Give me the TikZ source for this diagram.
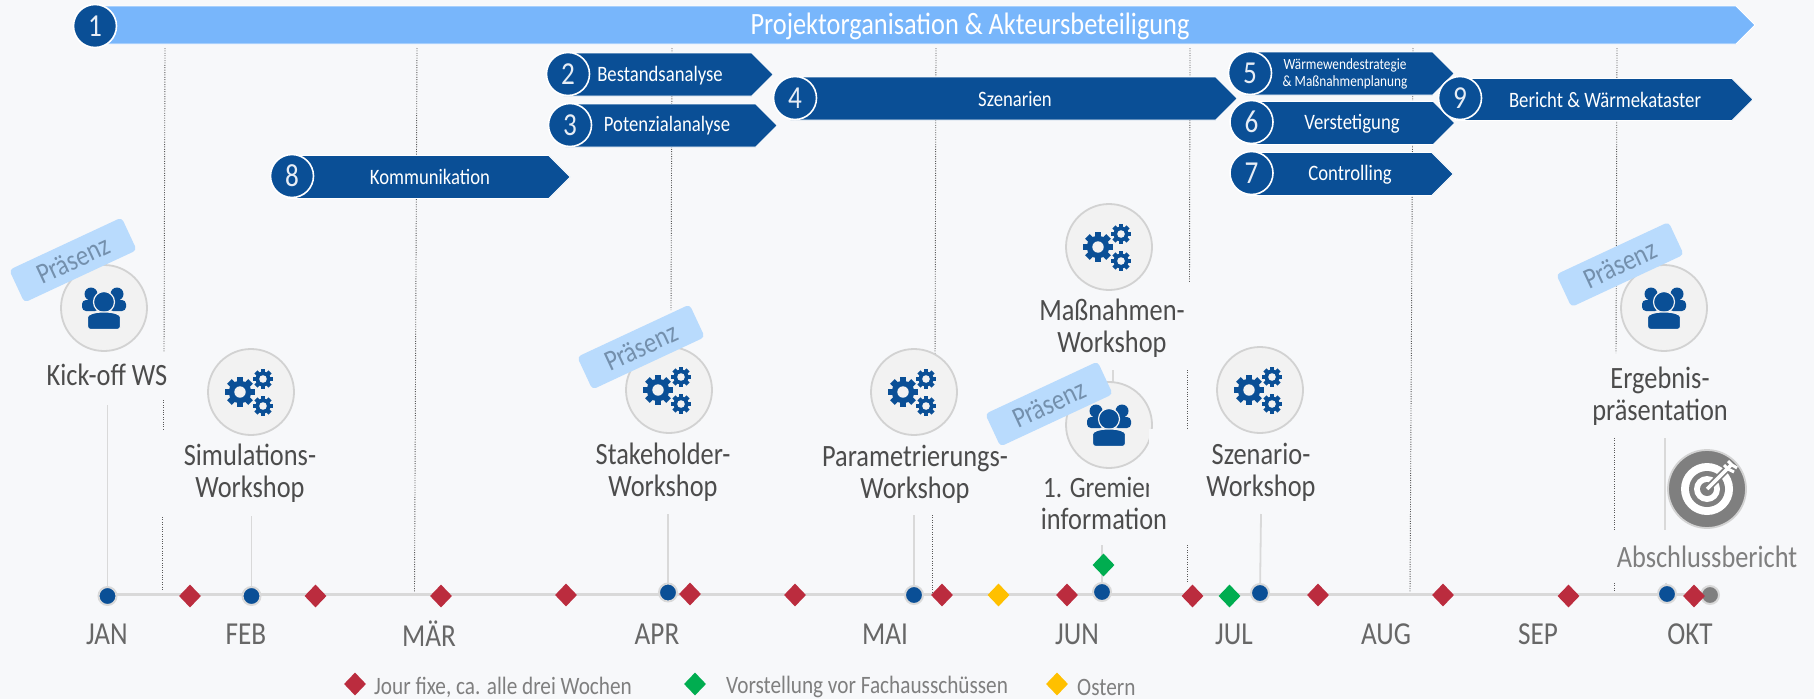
\documentclass[tikz,border=0pt]{standalone}
\usepackage{fontspec}
\setmainfont[FakeStretch=0.85]{Carlito}
\usepackage{tikz}
\usetikzlibrary{shapes.geometric,shapes.symbols}

\definecolor{cBack}{HTML}{F7F8FA}
\definecolor{cDark}{HTML}{0A4F96}
\definecolor{cLight}{HTML}{78B6FB}
\definecolor{cTag}{HTML}{B9DBFD}
\definecolor{cTagText}{HTML}{7490AD}
\definecolor{cRed}{HTML}{BB2C3E}
\definecolor{cGreen}{HTML}{00AD50}
\definecolor{cYellow}{HTML}{FFC000}
\definecolor{cDisc}{HTML}{F2F2F2}
\definecolor{cRing}{HTML}{D2D2D2}
\definecolor{cLine}{HTML}{D9D9D9}
\definecolor{cGrey}{HTML}{7F7F7F}
\definecolor{cText}{HTML}{4C4C4C}

\tikzset{
	gearshape/.pic = {
		\foreach \a in {0,45,...,315}
			\fill [cDark, rotate = \a] (-0.22,0.6) rectangle (0.22,1);
		\fill [cDark] (0,0) circle (0.75);
		\fill [cDisc] (0,0) circle (0.38);
	},
	gearsicon/.pic = {
		\pic [scale = 15] at (-11,0) {gearshape};
		\pic [scale = 10] at (12,-13) {gearshape};
		\pic [scale = 10] at (12,14) {gearshape};
	},
	peopleicon/.pic = {
		\fill [cDark] (-13,-14) circle (6.5);
		\fill [cDark] (13,-14) circle (6.5);
		\fill [cDark, rounded corners = 4] (-22,3) rectangle (-5,-8);
		\fill [cDark, rounded corners = 4] (5,3) rectangle (22,-8);
		\fill [cDark, draw = cDisc, line width = 1.2] (0,-6) circle (10.5);
		\fill [cDark, draw = cDisc, line width = 1.2, rounded corners = 3] (-16.5,21.5) -- (-16.5,12) .. controls (-16.5,6) and (-8,4) .. (0,4) .. controls (8,4) and (16.5,6) .. (16.5,12) -- (16.5,21.5) -- cycle;
	},
	targeticon/.pic = {
		\fill [white] (0,0) circle (26);
		\fill [cGrey] (0,0) circle (18);
		\fill [white] (0,0) circle (13);
		\fill [cGrey] (0,0) circle (7);
		\draw [cGrey, line width = 7] (0,0) -- (21,-21);
		\draw [white, line width = 3.5] (0,0) -- (24,-24);
		\draw [white, line width = 3] (17,-24) -- (21,-20) -- (27,-17);
		\draw [white, line width = 3] (21,-28) -- (25,-24) -- (30,-21);
	},
}

\begin{document}
\begin{tikzpicture}
[
	x	= 1pt,	% one unit is one pixel of the sketch
	y	= -1pt,
	barshape/.style	= {shape = signal, signal to = east, signal pointer angle = 90, inner sep = 0, outer sep = 0, draw = white, line width = 0.8, fill = cDark},
	barnumber/.style	= {shape = circle, minimum size = 43, inner sep = 0, draw = white, line width = 1.6, fill = cDark, text = white!90!cDark, font = \fontsize{32}{34}\selectfont},
	bartext/.style	= {text = white, align = center, inner sep = 0, font = \fontsize{22}{24}\selectfont},
	disc/.style	= {shape = circle, minimum size = 86, inner sep = 0, draw = cRing, line width = 1.8, fill = cDisc},
	workshop/.style	= {text = cText, align = center, inner sep = 1, fill = cBack, font = \fontsize{31}{32}\selectfont},
	tagbox/.style	= {shape = rectangle, rotate = 25, minimum width = 124, minimum height = 36, rounded corners = 4, inner sep = 0, fill = cTag, text = cTagText, font = \fontsize{29}{30}\selectfont},
	month/.style	= {text = cText!85, inner sep = 0, font = \fontsize{32}{33}\selectfont},
	legendtext/.style	= {text = cGrey, anchor = west, inner sep = 0, font = \fontsize{25}{26}\selectfont},
	markdot/.style	= {shape = circle, minimum size = 18, inner sep = 0, draw = cLine, line width = 2, fill = cDark},
	markend/.style	= {markdot, fill = cGrey},
	jourfixe/.style	= {shape = diamond, minimum width = 22, minimum height = 23, inner sep = 0, fill = cRed},
	gremium/.style	= {jourfixe, fill = cGreen},
	ostern/.style	= {jourfixe, fill = cYellow},
	monthline/.style	= {cGrey!70!black, dash pattern = on 1pt off 1.4pt, line width = 0.9},
	stemline/.style	= {cLine, line width = 1.8},
]

{
	\useasboundingbox (0,0) rectangle (1814,699);
	\fill [cBack] (0,0) rectangle (1814,699);

	% month separators
	\foreach \xa/\ya/\xb/\yb in {165/48/164/352, 163.5/400/163.5/430, 162/517/162/590,
		417/48/414.5/592, 672/48/671/310, 668/514/668/592,
		936/48/935/360, 932.6/515/932.6/592,
		1190/48/1189.5/283, 1187/370/1187/428, 1187/545/1187/583,
		1413/48/1410/592,
		1617/48/1616/353, 1614/438/1614/530, 1614/583/1614/592}
		\draw [monthline] (\xa,\ya) -- (\xb,\yb);

	% time line
	\coordinate (sStart) at (107.5,594);
	\coordinate (sEnd) at (1710,594);
	\draw [cLine, line width = 3] (sStart) -- (sEnd);

	% nodes declaration: time line markers
	\node (nDotJan) [markdot] at (107.5,596) {};
	\node (nDotFeb) [markdot] at (251.5,596) {};
	\node (nDotApr) [markdot] at (668,592.5) {};
	\node (nDotMai) [markdot] at (914,595) {};
	\node (nDotJun) [markdot] at (1102,592) {};
	\node (nDotJul) [markdot] at (1260,593) {};
	\node (nDotEnd) [markend] at (1710,595) {};
	\node (nDotOkt) [markdot] at (1667,594) {};

	\coordinate (sJan) at (107.5,405);
	\coordinate (sFeb) at (251.5,516);
	\coordinate (sApr) at (668,514);
	\coordinate (sMai) at (914,515);
	\coordinate (sJun) at (1102,545);
	\coordinate (sJul) at (1261,514);
	\coordinate (sGremien) at (1113,370);
	\coordinate (sOktTop) at (1665,438);
	\coordinate (sOktMid) at (1665,530);
	\coordinate (sOktLow) at (1666,583);

	% edges declaration
	\draw [stemline] (sJan) -- (nDotJan);
	\draw [stemline] (sFeb) -- (nDotFeb);
	\draw [stemline] (sApr) -- (nDotApr);
	\draw [stemline] (sMai) -- (nDotMai);
	\draw [stemline] (sJun) -- (nDotJun);
	\draw [stemline] (sJul) -- (nDotJul);
	\draw [stemline] (sOktTop) -- (sOktMid);
	\draw [stemline] (sOktLow) -- (nDotOkt);

	\node (nJourOne) [jourfixe] at (190,596) {};
	\node (nJourTwo) [jourfixe] at (315.5,596) {};
	\node (nJourThree) [jourfixe] at (441,596) {};
	\node (nJourFour) [jourfixe] at (566,595) {};
	\node (nJourFive) [jourfixe] at (690,594) {};
	\node (nJourSix) [jourfixe] at (795,595) {};
	\node (nJourSeven) [jourfixe] at (942,595) {};
	\node (nJourEight) [jourfixe] at (1067,595) {};
	\node (nJourNine) [jourfixe] at (1192.5,596) {};
	\node (nJourTen) [jourfixe] at (1318,595) {};
	\node (nJourEleven) [jourfixe] at (1443,595) {};
	\node (nJourTwelve) [jourfixe] at (1568.5,596) {};
	\node (nJourThirteen) [jourfixe] at (1694,596) {};
	\node (nGremOne) [gremium] at (1103.5,565) {};
	\node (nGremTwo) [gremium] at (1229.5,596) {};
	\node (nOstern) [ostern] at (998.5,595) {};

	\draw (107,634) node (nMonJan) [month] {JAN};
	\draw (246,634) node (nMonFeb) [month] {FEB};
	\draw (429,634) node (nMonMar) [month] {MÄR};
	\draw (657,634) node (nMonApr) [month] {APR};
	\draw (885,634) node (nMonMai) [month] {MAI};
	\draw (1077,634) node (nMonJun) [month] {JUN};
	\draw (1234,634) node (nMonJul) [month] {JUL};
	\draw (1386,634) node (nMonAug) [month] {AUG};
	\draw (1538,634) node (nMonSep) [month] {SEP};
	\draw (1690,634) node (nMonOkt) [month] {OKT};

	% phase bars
	\node (nBarOne) [barshape, fill = cLight, minimum width = 1666, minimum height = 38] at (912.5,25) {};
	\node (nBarEight) [barshape, minimum width = 283, minimum height = 43] at (418,177) {};
	\node (nBarTwo) [barshape, minimum width = 210, minimum height = 43] at (657.5,74.5) {};
	\node (nBarThree) [barshape, minimum width = 212, minimum height = 43] at (660.5,125.5) {};
	\node (nBarFour) [barshape, minimum width = 447, minimum height = 43] at (1003,98.5) {};
	\node (nBarFive) [barshape, minimum width = 209, minimum height = 43] at (1339,73.5) {};
	\node (nBarSix) [barshape, minimum width = 208, minimum height = 43] at (1340,123) {};
	\node (nBarSeven) [barshape, minimum width = 207, minimum height = 43] at (1339,174) {};
	\node (nBarNine) [barshape, minimum width = 298, minimum height = 42] at (1593.5,99.5) {};

	\node (nNumOne) [barnumber] at (95,26) {1};
	\node (nNumTwo) [barnumber] at (568,74) {2};
	\node (nNumThree) [barnumber] at (570,125) {3};
	\node (nNumFour) [barnumber] at (795,98) {4};
	\node (nNumFive) [barnumber] at (1250,73) {5};
	\node (nNumSix) [barnumber] at (1251.5,122) {6};
	\node (nNumSeven) [barnumber] at (1251.5,173) {7};
	\node (nNumEight) [barnumber] at (292,176) {8};
	\node (nNumNine) [barnumber] at (1460,98) {9};

	\node (nTextOne) [bartext, font = \fontsize{31}{32}\selectfont] at (970,26) {Projektorganisation \& Akteursbeteiligung};
	\node (nTextTwo) [bartext] at (660,76) {Bestandsanalyse};
	\node (nTextThree) [bartext] at (667,126) {Potenzialanalyse};
	\node (nTextFour) [bartext] at (1015,99.5) {Szenarien};
	\node (nTextFive) [bartext, font = \fontsize{15.6}{16.5}\selectfont] at (1345,74) {Wärmewendestrategie\\\& Maßnahmenplanung};
	\node (nTextSix) [bartext] at (1352,124) {Verstetigung};
	\node (nTextSeven) [bartext] at (1350,175) {Controlling};
	\node (nTextEight) [bartext] at (430,177) {Kommunikation};
	\node (nTextNine) [bartext] at (1605,100) {Bericht \& Wärmekataster};

	% workshops
	\node (nDiscKick) [disc] at (104,308) {};
	\node (nDiscSim) [disc] at (251,392) {};
	\node (nDiscStake) [disc] at (669,390) {};
	\node (nDiscPara) [disc] at (914,392) {};
	\node (nDiscMass) [disc] at (1109,247) {};
	\draw [stemline] (sGremien) -- (1113,400);
	\node (nDiscGrem) [disc] at (1109,425) {};
	\node (nDiscSzen) [disc] at (1260,390) {};
	\node (nDiscErg) [disc] at (1664,308) {};
	\node (nDiscZiel) [disc, minimum size = 78, fill = cGrey] at (1707,489) {};

	\pic at (104,308) {peopleicon};
	\pic at (251,392) {gearsicon};
	\pic at (669,390) {gearsicon};
	\pic at (914,392) {gearsicon};
	\pic at (1109,247) {gearsicon};
	\pic at (1109,425) {peopleicon};
	\pic at (1260,390) {gearsicon};
	\pic at (1664,308) {peopleicon};
	\pic at (1707,489) {targeticon};

	\node (nLabKick) [workshop] at (107,375) {Kick-off WS};
	\node (nLabSim) [workshop] at (250,473) {Simulations-\\Workshop};
	\node (nLabStake) [workshop] at (663,472) {Stakeholder-\\Workshop};
	\node (nLabPara) [workshop] at (915,474) {Parametrierungs-\\Workshop};
	\node (nLabMass) [workshop] at (1112,328) {Maßnahmen-\\Workshop};
	\node (nLabGremOne) [workshop, fill = none, anchor = west, font = \fontsize{29.5}{32}\selectfont] at (1042,487) {1. Gremien};
	\fill [cBack] (1149,429) rectangle (1175,505);
	\node (nLabGremTwo) [workshop, fill = none] at (1104,519) {information};
	\node (nLabSzen) [workshop] at (1261,472) {Szenario-\\Workshop};
	\node (nLabErg) [workshop] at (1660,396) {Ergebnis-\\präsentation};
	\node (nLabZiel) [workshop, text = cGrey] at (1707,557) {Abschlussbericht};

	\node (nTagKick) [tagbox] at (73,260) {Präsenz};
	\node (nTagStake) [tagbox] at (641,347) {Präsenz};
	\node (nTagGrem) [tagbox] at (1049,404) {Präsenz};
	\node (nTagErg) [tagbox] at (1620,264.5) {Präsenz};

	% legend
	\node (nLegJour) [jourfixe] at (355,684) {};
	\node (nLegGrem) [gremium] at (695,684) {};
	\node (nLegOst) [ostern] at (1057,684) {};
	\node (nLegJourText) [legendtext] at (374,687) {Jour fixe, ca. alle drei Wochen};
	\node (nLegGremText) [legendtext] at (726,687) {Vorstellung vor Fachausschüssen};
	\node (nLegOstText) [legendtext] at (1077,687) {Ostern};
}

\end{tikzpicture}
\end{document}
